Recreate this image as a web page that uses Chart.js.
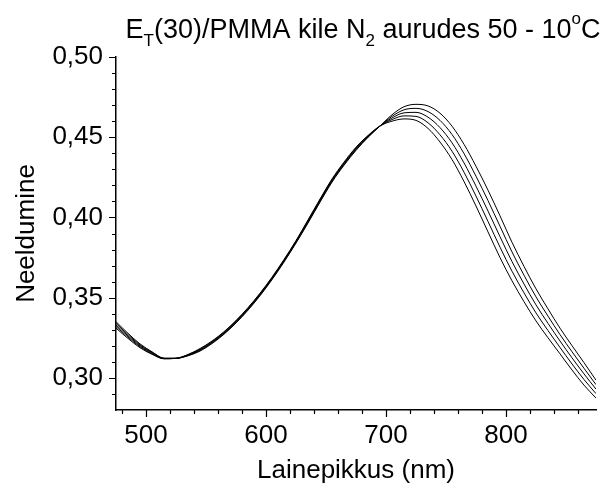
<!DOCTYPE html>
<html><head><meta charset="utf-8">
<script src="https://cdn.jsdelivr.net/npm/chart.js@4"></script>
<style>html,body{margin:0;padding:0;background:#fff}canvas{display:block}</style>
</head><body>
<canvas id="c" width="605" height="493"></canvas>
<script>
const wavelengths = [475,485,495,505,515,525,535,545,555,565,575,585,595,605,615,625,635,645,655,665,675,685,695,705,715,725,735,745,755,765,775,785,795,805,815,825,835,845,855,865,875];
const seriesA = [0.3350,0.3278,0.3212,0.3163,0.3123,0.3122,0.3138,0.3167,0.3214,0.3272,0.3342,0.3422,0.3512,0.3612,0.3722,0.3840,0.3965,0.4095,0.4220,0.4325,0.4418,0.4499,0.4570,0.4640,0.4690,0.4705,0.4695,0.4650,0.4569,0.4456,0.4319,0.4170,0.4010,0.3845,0.3695,0.3555,0.3430,0.3310,0.3201,0.3095,0.2986];
const seriesB = [0.3340,0.3270,0.3206,0.3159,0.3122,0.3122,0.3140,0.3171,0.3218,0.3276,0.3346,0.3426,0.3516,0.3616,0.3726,0.3844,0.3970,0.4100,0.4225,0.4330,0.4423,0.4502,0.4570,0.4630,0.4671,0.4680,0.4660,0.4605,0.4517,0.4398,0.4257,0.4105,0.3945,0.3785,0.3640,0.3505,0.3385,0.3270,0.3163,0.3060,0.2958];
const seriesC = [0.3330,0.3262,0.3200,0.3155,0.3121,0.3122,0.3142,0.3175,0.3222,0.3280,0.3350,0.3430,0.3520,0.3620,0.3730,0.3848,0.3975,0.4105,0.4230,0.4335,0.4428,0.4505,0.4570,0.4620,0.4652,0.4655,0.4625,0.4560,0.4465,0.4340,0.4195,0.4040,0.3880,0.3725,0.3585,0.3455,0.3340,0.3230,0.3125,0.3025,0.2930];
const seriesD = [0.3320,0.3254,0.3194,0.3151,0.3120,0.3122,0.3144,0.3179,0.3226,0.3284,0.3354,0.3434,0.3524,0.3624,0.3734,0.3852,0.3980,0.4110,0.4235,0.4340,0.4433,0.4508,0.4570,0.4610,0.4633,0.4630,0.4590,0.4515,0.4413,0.4282,0.4133,0.3975,0.3815,0.3665,0.3530,0.3405,0.3295,0.3190,0.3087,0.2990,0.2902];
const seriesE = [0.3310,0.3246,0.3188,0.3147,0.3119,0.3122,0.3146,0.3183,0.3230,0.3288,0.3358,0.3438,0.3528,0.3628,0.3738,0.3856,0.3985,0.4115,0.4240,0.4345,0.4438,0.4511,0.4570,0.4600,0.4614,0.4605,0.4555,0.4470,0.4361,0.4224,0.4071,0.3910,0.3750,0.3605,0.3475,0.3355,0.3250,0.3150,0.3049,0.2955,0.2874];
const seriesList = [seriesA, seriesB, seriesC, seriesD, seriesE];

const xMajorTicks = [500,600,700,800];
const xMinorTicks = [480,520,540,560,580,620,640,660,680,720,740,760,780,820,840,860];
const yMajorTicks = [0.30,0.35,0.40,0.45,0.50];
const yMinorTicks = [0.29,0.31,0.32,0.33,0.34,0.36,0.37,0.38,0.39,0.41,0.42,0.43,0.44,0.46,0.47,0.48,0.49];

const FONT = '"Liberation Sans", Arial, Helvetica, sans-serif';

const decorPlugin = {
  id: 'decor',
  afterDraw(chart) {
    const ctx = chart.ctx;
    const xs = chart.scales.x, ys = chart.scales.y;
    const area = chart.chartArea;
    ctx.save();
    ctx.strokeStyle = '#000';
    ctx.lineWidth = 1.2;
    ctx.beginPath();
    xMajorTicks.forEach(v => { const p = Math.round(xs.getPixelForValue(v)) + 0.5; ctx.moveTo(p, area.bottom); ctx.lineTo(p, area.bottom + 7); });
    xMinorTicks.forEach(v => { const p = Math.round(xs.getPixelForValue(v)) + 0.5; ctx.moveTo(p, area.bottom); ctx.lineTo(p, area.bottom + 4); });
    yMajorTicks.forEach(v => { const p = Math.round(ys.getPixelForValue(v)) + 0.5; ctx.moveTo(area.left, p); ctx.lineTo(area.left - 7, p); });
    yMinorTicks.forEach(v => { const p = Math.round(ys.getPixelForValue(v)) + 0.5; ctx.moveTo(area.left, p); ctx.lineTo(area.left - 4, p); });
    ctx.stroke();

    ctx.fillStyle = '#000';
    ctx.font = '26px ' + FONT;
    ctx.textAlign = 'center';
    ctx.textBaseline = 'alphabetic';
    ctx.fillText('Lainepikkus (nm)', (area.left + area.right) / 2, 478);
    ctx.save();
    ctx.translate(34, (area.top + area.bottom) / 2);
    ctx.rotate(-Math.PI / 2);
    ctx.fillText('Neeldumine', 0, 0);
    ctx.restore();

    const big = '27px ' + FONT, small = '17px ' + FONT;
    const parts = [
      ['E', big, 0], ['T', small, 8], ['(30)/PMMA kile N', big, 0], ['2', small, 8],
      [' aurudes 50 - 10', big, 0], ['o', small, -14], ['C', big, 0]
    ];
    let total = 0;
    parts.forEach(p => { ctx.font = p[1]; total += ctx.measureText(p[0]).width; });
    let x = 363 - total / 2;
    const base = 38;
    ctx.textAlign = 'left';
    parts.forEach(p => { ctx.font = p[1]; ctx.fillText(p[0], x, base + p[2]); x += ctx.measureText(p[0]).width; });
    ctx.restore();
  }
};

new Chart(document.getElementById('c'), {
  type: 'line',
  data: {
    labels: wavelengths,
    datasets: seriesList.map(s => ({
      data: wavelengths.map((w, i) => ({ x: w, y: s[i] })),
      borderColor: '#000', borderWidth: 1, pointRadius: 0, fill: false,
      cubicInterpolationMode: 'monotone'
    }))
  },
  options: {
    responsive: false, animation: false, devicePixelRatio: 1,
    layout: { padding: { left: 0, top: 57, right: 9, bottom: 0 } },
    plugins: { legend: { display: false }, title: { display: false }, tooltip: { enabled: false } },
    scales: {
      x: {
        type: 'linear', min: 475, max: 875,
        afterBuildTicks: s => { s.ticks = xMajorTicks.map(v => ({ value: v })); },
        afterFit: s => { s.height = 83; },
        grid: { display: false, drawTicks: false },
        border: { display: true, color: '#000', width: 1.5 },
        ticks: { font: { family: FONT, size: 26 }, color: '#000', padding: 10, maxRotation: 0, autoSkip: false, callback: v => String(v) }
      },
      y: {
        type: 'linear', min: 0.28, max: 0.50,
        afterBuildTicks: s => { s.ticks = yMajorTicks.map(v => ({ value: v })); },
        afterFit: s => { s.width = 116; },
        grid: { display: false, drawTicks: false },
        border: { display: true, color: '#000', width: 1.5 },
        ticks: { font: { family: FONT, size: 26 }, color: '#000', padding: 13, autoSkip: false, callback: v => v.toFixed(2).replace('.', ',') }
      }
    }
  },
  plugins: [decorPlugin]
});
</script>
</body></html>
